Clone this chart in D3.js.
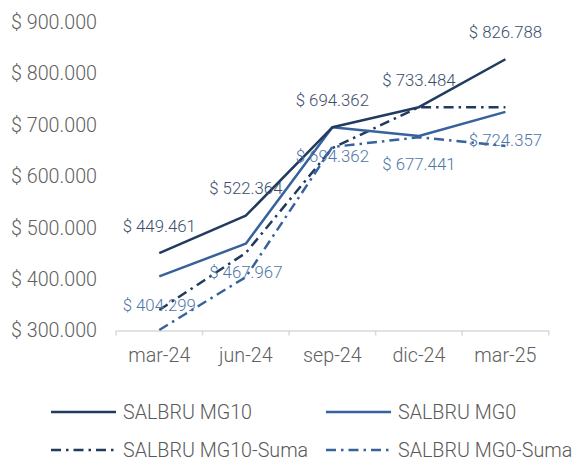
<!DOCTYPE html>
<html>
<head>
<meta charset="utf-8">
<script src="https://cdn.jsdelivr.net/npm/d3@7"></script>
<style>
  html, body { margin: 0; padding: 0; background: #fff; }
  svg { display: block; }
  text { font-family: Roboto, "Noto Sans", sans-serif; }
</style>
</head>
<body>
<svg id="chart" width="574" height="459"></svg>
<script>
const categories = ["mar-24", "jun-24", "sep-24", "dic-24", "mar-25"];
const mg10 = [449461, 522364, 694362, 733484, 826788];
const mg0 = [404299, 467967, 694362, 677441, 724357];
const mg10Suma = [339000, 450000, 654000, 733484, 733484];
const mg0Suma = [300000, 403000, 656000, 675000, 658000];
const yTicks = [300000, 400000, 500000, 600000, 700000, 800000, 900000];
const seriesNames = ["SALBRU MG10", "SALBRU MG0", "SALBRU MG10-Suma", "SALBRU MG0-Suma"];

const colDark = "#213b5f";
const colLight = "#37629b";
const dashDot = "10,5,2.5,5";

const series = [
  { name: seriesNames[0], values: mg10, color: colDark, dash: null, labels: "above", labelColor: "#3b4e6b" },
  { name: seriesNames[1], values: mg0, color: colLight, dash: null, labels: "below", labelColor: "#4f76a8" },
  { name: seriesNames[2], values: mg10Suma, color: colDark, dash: dashDot, labels: null },
  { name: seriesNames[3], values: mg0Suma, color: colLight, dash: dashDot, labels: null }
];

const svg = d3.select("#chart");
const x = d3.scaleBand().domain(categories).range([116, 548.7]).padding(0);
const y = d3.scaleLinear().domain([300000, 900000]).range([330, 21.6]);
const fmt = v => "$ " + d3.format(",")(v).replace(/,/g, ".");

// Y axis labels (no axis line)
const yAxis = d3.axisLeft(y).tickValues(yTicks).tickFormat(fmt).tickSize(0).tickPadding(0);
const gy = svg.append("g").attr("transform", "translate(97,0)").call(yAxis);
gy.select(".domain").remove();
gy.selectAll("text")
  .attr("fill", "#606060")
  .style("font-size", "19.7px")
  .style("font-weight", 300)
  .attr("dy", "0.35em");

// X axis
const xAxis = d3.axisBottom(x).tickSize(0).tickPadding(19);
const gx = svg.append("g").attr("transform", "translate(0,330.5)").call(xAxis);
gx.select(".domain").attr("stroke", "#d9d9d9").attr("stroke-width", 1.5);
gx.selectAll("text")
  .attr("fill", "#606060")
  .style("font-size", "19.7px")
  .style("font-weight", 300)
  .attr("dy", "0.35em")
  .attr("y", 25);
// category boundary ticks
const bounds = categories.map(c => x(c)).concat([x.range()[1]]);
gx.selectAll(".bt").data(bounds).enter().append("line")
  .attr("x1", d => d).attr("x2", d => d)
  .attr("y1", 0).attr("y2", 5)
  .attr("stroke", "#d9d9d9").attr("stroke-width", 1.5);

const cx = c => x(c) + x.bandwidth() / 2;
const line = d3.line().x((d, i) => cx(categories[i])).y(d => y(d));

// draw lines (dashed first under solids)
[2, 3, 1, 0].forEach(k => {
  const s = series[k];
  svg.append("path")
    .datum(s.values)
    .attr("d", line)
    .attr("fill", "none")
    .attr("stroke", s.color)
    .attr("stroke-width", 2.5)
    .attr("stroke-dasharray", s.dash)
    .attr("stroke-linejoin", "round");
});

// data labels
series.filter(s => s.labels).forEach(s => {
  svg.append("g").selectAll("text").data(s.values).enter().append("text")
    .attr("x", (d, i) => cx(categories[i]))
    .attr("y", d => y(d) + (s.labels === "above" ? -27.5 : 28.5))
    .attr("dy", "0.35em")
    .attr("text-anchor", "middle")
    .attr("fill", s.labelColor)
    .style("font-size", "16.8px")
    .style("font-weight", 300)
    .text(d => fmt(d));
});

// legend
const legPos = [
  { lx: 51, ly: 412 }, { lx: 326, ly: 412 },
  { lx: 51, ly: 450 }, { lx: 326, ly: 450 }
];
series.forEach((s, i) => {
  const p = legPos[i];
  const g = svg.append("g");
  g.append("line")
    .attr("x1", p.lx).attr("x2", p.lx + 65)
    .attr("y1", p.ly).attr("y2", p.ly)
    .attr("stroke", s.color).attr("stroke-width", 2.5)
    .attr("stroke-dasharray", s.dash);
  g.append("text")
    .attr("x", p.lx + 72).attr("y", p.ly)
    .attr("dy", "0.35em")
    .attr("fill", "#595959")
    .style("font-size", "19.7px")
    .style("font-weight", 300)
    .text(s.name);
});
</script>
</body>
</html>
